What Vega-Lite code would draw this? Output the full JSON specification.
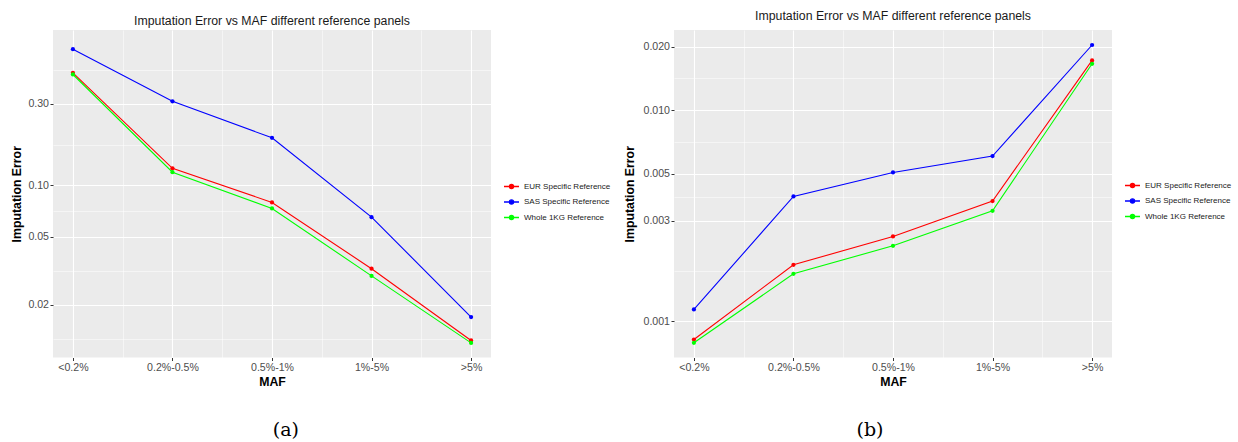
{
  "$schema": "https://vega.github.io/schema/vega-lite/v6.json",
  "background": "white",
  "padding": {"left": 10, "top": 9, "right": 0, "bottom": 0},
  "spacing": 12,
  "datasets": {
    "a": [
      {"MAF": "<0.2%", "pos": 0, "reference": "EUR Specific Reference", "error": 0.456},
      {"MAF": "0.2%-0.5%", "pos": 1, "reference": "EUR Specific Reference", "error": 0.126},
      {"MAF": "0.5%-1%", "pos": 2, "reference": "EUR Specific Reference", "error": 0.0796},
      {"MAF": "1%-5%", "pos": 3, "reference": "EUR Specific Reference", "error": 0.0326},
      {"MAF": ">5%", "pos": 4, "reference": "EUR Specific Reference", "error": 0.0124},
      {"MAF": "<0.2%", "pos": 0, "reference": "SAS Specific Reference", "error": 0.627},
      {"MAF": "0.2%-0.5%", "pos": 1, "reference": "SAS Specific Reference", "error": 0.311},
      {"MAF": "0.5%-1%", "pos": 2, "reference": "SAS Specific Reference", "error": 0.19},
      {"MAF": "1%-5%", "pos": 3, "reference": "SAS Specific Reference", "error": 0.0653},
      {"MAF": ">5%", "pos": 4, "reference": "SAS Specific Reference", "error": 0.017},
      {"MAF": "<0.2%", "pos": 0, "reference": "Whole 1KG Reference", "error": 0.446},
      {"MAF": "0.2%-0.5%", "pos": 1, "reference": "Whole 1KG Reference", "error": 0.1196},
      {"MAF": "0.5%-1%", "pos": 2, "reference": "Whole 1KG Reference", "error": 0.0734},
      {"MAF": "1%-5%", "pos": 3, "reference": "Whole 1KG Reference", "error": 0.0296},
      {"MAF": ">5%", "pos": 4, "reference": "Whole 1KG Reference", "error": 0.012}
    ],
    "b": [
      {"MAF": "<0.2%", "pos": 0, "reference": "EUR Specific Reference", "error": 0.00082},
      {"MAF": "0.2%-0.5%", "pos": 1, "reference": "EUR Specific Reference", "error": 0.001853},
      {"MAF": "0.5%-1%", "pos": 2, "reference": "EUR Specific Reference", "error": 0.002523},
      {"MAF": "1%-5%", "pos": 3, "reference": "EUR Specific Reference", "error": 0.003714},
      {"MAF": ">5%", "pos": 4, "reference": "EUR Specific Reference", "error": 0.01722},
      {"MAF": "<0.2%", "pos": 0, "reference": "SAS Specific Reference", "error": 0.001138},
      {"MAF": "0.2%-0.5%", "pos": 1, "reference": "SAS Specific Reference", "error": 0.003905},
      {"MAF": "0.5%-1%", "pos": 2, "reference": "SAS Specific Reference", "error": 0.005073},
      {"MAF": "1%-5%", "pos": 3, "reference": "SAS Specific Reference", "error": 0.006067},
      {"MAF": ">5%", "pos": 4, "reference": "SAS Specific Reference", "error": 0.02037},
      {"MAF": "<0.2%", "pos": 0, "reference": "Whole 1KG Reference", "error": 0.000791},
      {"MAF": "0.2%-0.5%", "pos": 1, "reference": "Whole 1KG Reference", "error": 0.001679},
      {"MAF": "0.5%-1%", "pos": 2, "reference": "Whole 1KG Reference", "error": 0.00228},
      {"MAF": "1%-5%", "pos": 3, "reference": "Whole 1KG Reference", "error": 0.00334},
      {"MAF": ">5%", "pos": 4, "reference": "Whole 1KG Reference", "error": 0.01659}
    ]
  },
  "hconcat": [
    {
      "title": {"text": "(a)", "orient": "bottom", "font": "DejaVu Serif", "fontSize": 19, "fontWeight": "normal", "color": "black", "offset": 33, "anchor": "middle", "dx": -25},
      "vconcat": [
        {
          "width": 438,
          "height": 327.5,
          "title": {"text": "Imputation Error vs MAF different reference panels", "offset": 3},
          "data": {"name": "a"},
          "encoding": {
            "x": {
              "field": "pos", "type": "quantitative",
              "scale": {"domain": [-0.2, 4.2], "nice": false, "zero": false},
              "axis": {
                "title": "MAF",
                "values": [0, 0.5, 1, 1.5, 2, 2.5, 3, 3.5, 4],
                "labelExpr": "datum.value % 1 == 0 ? ['<0.2%', '0.2%-0.5%', '0.5%-1%', '1%-5%', '>5%'][datum.value] : ''",
                "labelFlush": false, "labelOverlap": false, "labelPadding": 1.5, "titlePadding": 3,
                "grid": true,
                "gridWidth": {"condition": {"test": "datum.value % 1 != 0", "value": 0.5}, "value": 1.1},
                "tickOpacity": {"condition": {"test": "datum.value % 1 != 0", "value": 0}, "value": 1}
              }
            },
            "y": {
              "field": "error", "type": "quantitative",
              "scale": {"type": "log", "domain": [0.00986, 0.812], "nice": false},
              "axis": {
                "title": "Imputation Error",
                "values": [0.01265, 0.02, 0.03162, 0.05, 0.07071, 0.1, 0.1732, 0.3, 0.4743],
                "labelExpr": "indexof([0.02, 0.05, 0.1, 0.3], datum.value) >= 0 ? format(datum.value, '.2f') : ''",
                "labelOverlap": false, "labelPadding": 1.5, "titlePadding": 4,
                "grid": true,
                "gridWidth": {"condition": {"test": "indexof([0.02, 0.05, 0.1, 0.3], datum.value) < 0", "value": 0.5}, "value": 1.1},
                "tickOpacity": {"condition": {"test": "indexof([0.02, 0.05, 0.1, 0.3], datum.value) < 0", "value": 0}, "value": 1}
              }
            },
            "color": {
              "field": "reference", "type": "nominal",
              "scale": {"domain": ["EUR Specific Reference", "SAS Specific Reference", "Whole 1KG Reference"], "range": ["#FF0000", "#0000FF", "#00FF00"]},
              "legend": {"title": null, "orient": "none", "legendX": 450, "legendY": 148}
            }
          },
          "layer": [
            {"mark": {"type": "line", "strokeWidth": 1.1}},
            {"mark": {"type": "point", "filled": true, "size": 18, "opacity": 1, "shape": "circle"}}
          ]
        }
      ]
    },
    {
      "title": {"text": "(b)", "orient": "bottom", "font": "DejaVu Serif", "fontSize": 19, "fontWeight": "normal", "color": "black", "offset": 33, "anchor": "middle", "dx": -58},
      "vconcat": [
        {
          "width": 438,
          "height": 327.5,
          "title": {"text": "Imputation Error vs MAF different reference panels", "offset": 8},
          "data": {"name": "b"},
          "encoding": {
            "x": {
              "field": "pos", "type": "quantitative",
              "scale": {"domain": [-0.2, 4.2], "nice": false, "zero": false},
              "axis": {
                "title": "MAF",
                "values": [0, 0.5, 1, 1.5, 2, 2.5, 3, 3.5, 4],
                "labelExpr": "datum.value % 1 == 0 ? ['<0.2%', '0.2%-0.5%', '0.5%-1%', '1%-5%', '>5%'][datum.value] : ''",
                "labelFlush": false, "labelOverlap": false, "labelPadding": 1.5, "titlePadding": 3,
                "grid": true,
                "gridWidth": {"condition": {"test": "datum.value % 1 != 0", "value": 0.5}, "value": 1.1},
                "tickOpacity": {"condition": {"test": "datum.value % 1 != 0", "value": 0}, "value": 1}
              }
            },
            "y": {
              "field": "error", "type": "quantitative",
              "scale": {"type": "log", "domain": [0.000674, 0.02399], "nice": false},
              "axis": {
                "title": "Imputation Error",
                "values": [0.001, 0.001732, 0.003, 0.003873, 0.005, 0.007071, 0.01, 0.014142, 0.02],
                "labelExpr": "indexof([0.001, 0.003, 0.005, 0.01, 0.02], datum.value) >= 0 ? format(datum.value, '.3f') : ''",
                "labelOverlap": false, "labelPadding": 1.5, "titlePadding": 6,
                "grid": true,
                "gridWidth": {"condition": {"test": "indexof([0.001, 0.003, 0.005, 0.01, 0.02], datum.value) < 0", "value": 0.5}, "value": 1.1},
                "tickOpacity": {"condition": {"test": "indexof([0.001, 0.003, 0.005, 0.01, 0.02], datum.value) < 0", "value": 0}, "value": 1}
              }
            },
            "color": {
              "field": "reference", "type": "nominal",
              "scale": {"domain": ["EUR Specific Reference", "SAS Specific Reference", "Whole 1KG Reference"], "range": ["#FF0000", "#0000FF", "#00FF00"]},
              "legend": {"title": null, "orient": "none", "legendX": 450, "legendY": 147}
            }
          },
          "layer": [
            {"mark": {"type": "line", "strokeWidth": 1.1}},
            {"mark": {"type": "point", "filled": true, "size": 18, "opacity": 1, "shape": "circle"}}
          ]
        }
      ]
    }
  ],
  "resolve": {"scale": {"color": "independent", "y": "independent", "x": "independent"}, "legend": {"color": "independent"}},
  "config": {
    "font": "Liberation Sans",
    "view": {"fill": "#EBEBEB", "stroke": null},
    "axis": {
      "domain": false, "tickColor": "#333333", "tickSize": 3, "tickWidth": 1,
      "labelColor": "#4D4D4D", "labelFontSize": 10.6, "labelFont": "Liberation Sans",
      "titleFont": "Liberation Sans", "titleFontSize": 12.3, "titleFontWeight": "bold", "titleColor": "black",
      "gridColor": "white"
    },
    "title": {"font": "Liberation Sans", "fontSize": 12.3, "fontWeight": "normal", "color": "#1a1a1a", "anchor": "middle"},
    "legend": {
      "padding": 0, "rowPadding": 1.5, "labelFontSize": 8, "labelFont": "Liberation Sans", "labelColor": "#1a1a1a",
      "labelOffset": 4, "symbolSize": 225, "symbolStrokeWidth": 1.3,
      "symbolType": "M-1,0L1,0M-0.28,0A0.28,0.28,0,1,1,0.28,0A0.28,0.28,0,1,1,-0.28,0"
    }
  }
}
